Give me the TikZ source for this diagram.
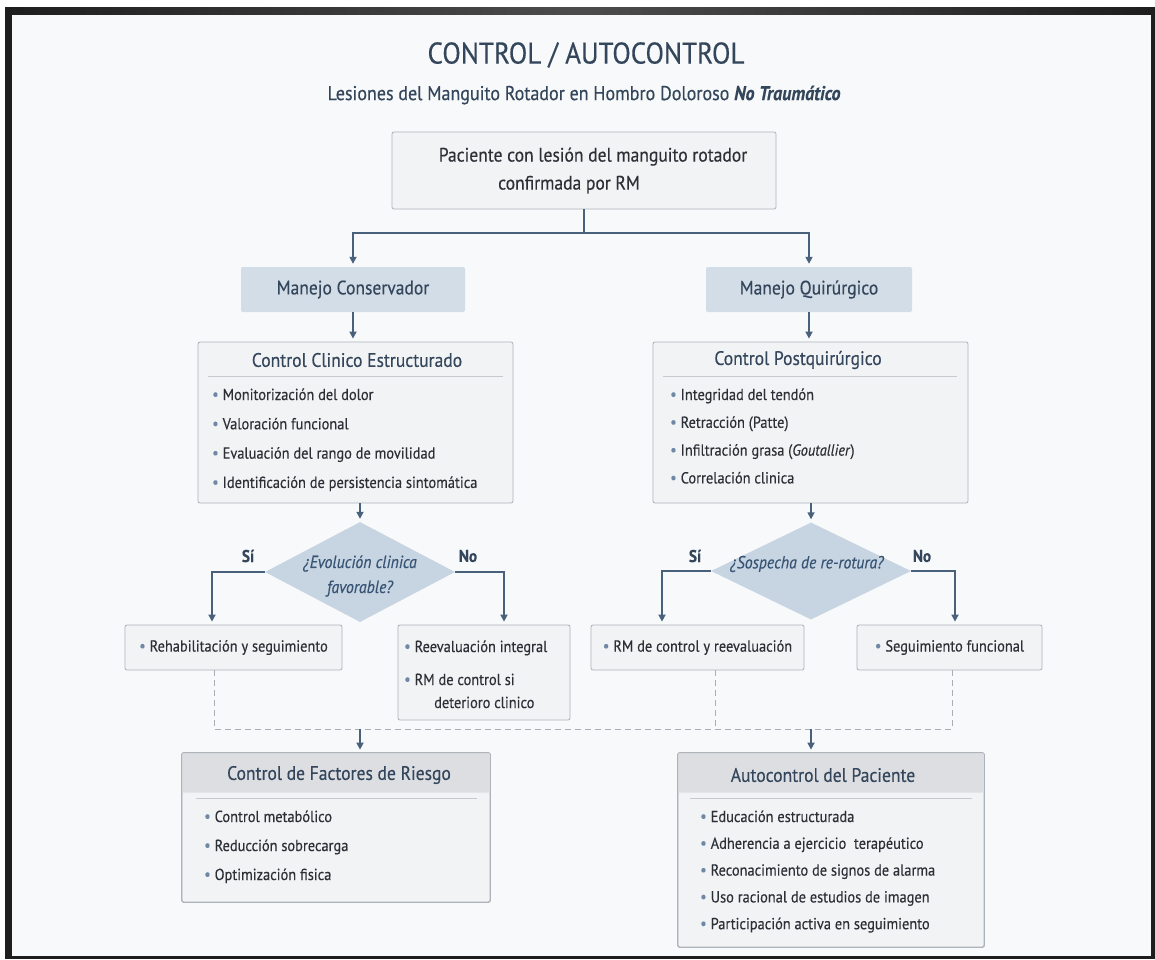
\documentclass[tikz,border=0pt]{standalone}
\usepackage{fontspec}
\usepackage{graphicx}
\setmainfont{PT Sans}[FakeStretch=0.9, FakeBold=0.35]
\usetikzlibrary{arrows.meta,shapes.geometric,calc}

\definecolor{framec}{HTML}{1E1E1E}
\definecolor{bgc}{HTML}{F8F9FA}
\definecolor{linec}{HTML}{4A617C}
\definecolor{boxfill}{HTML}{F2F3F5}
\definecolor{boxdraw}{HTML}{ADB3BA}
\definecolor{mfill}{HTML}{D3DDE7}
\definecolor{dfill}{HTML}{C7D4E1}
\definecolor{hdrfill}{HTML}{DCDEE2}
\definecolor{titlec}{HTML}{34465B}
\definecolor{textc}{HTML}{2C3036}
\definecolor{bulletc}{HTML}{6F88A5}
\definecolor{dashc}{HTML}{A9AFB6}
\definecolor{sepc}{HTML}{C6CACF}
\definecolor{qtext}{HTML}{385474}

\newcommand\bul{\textcolor{bulletc}{\raisebox{0.05ex}{\scalebox{1.0}{\textbullet}}}\hspace{4pt}}
\newcommand\listfont{\fontsize{16}{19}\selectfont}
\newcommand\headfont{\fontsize{19.5}{23}\selectfont}

\begin{document}
\begin{tikzpicture}[x=1pt,y=-1pt,
  box/.style={draw=boxdraw, fill=boxfill, line width=0.8pt, rounded corners=2pt,
    inner sep=0pt, anchor=center},
  mbox/.style={fill=mfill, rounded corners=2pt, inner sep=0pt, anchor=center,
    font=\headfont, text=titlec},
  decision/.style={diamond, fill=dfill, inner sep=0pt, aspect=1.9},
  qtxt/.style={font=\fontsize{17.5}{25}\selectfont\itshape, text=qtext, align=center,
    inner sep=0pt},
  head/.style={font=\headfont, text=titlec, inner sep=0pt, anchor=center},
  item/.style={anchor=base west, inner sep=0pt, font=\listfont, text=textc},
  answer/.style={font=\fontsize{17}{20}\selectfont\bfseries, text=titlec, inner sep=0pt},
  sep/.style={draw=sepc, line width=1pt},
  link/.style={draw=linec, line width=1.6pt},
  arr/.style={link, -{Triangle[width=7pt,length=7pt]}, shorten >=3pt},
  dashline/.style={draw=dashc, line width=0.8pt, dash pattern=on 6pt off 4pt}]

\useasboundingbox (0,0) rectangle (1155,959);
% screen frame and page
\fill[white] (0,0) rectangle (1155,959);
\fill[framec] (5,7) rectangle (1155,959);
\shade[left color=framec, right color=framec, middle color=black!70] (5,7) rectangle (1155,15);
\fill[bgc] (12,15) rectangle (1151,956);

% headings
\node[font=\fontsize{30}{34}\selectfont, text=titlec] (title) at (586,55) {CONTROL / AUTOCONTROL};
\node[font=\fontsize{20}{24}\selectfont, text=titlec] (subtitle) at (584,95)
  {Lesiones del Manguito Rotador en Hombro Doloroso \textbf{\textit{No Traumático}}};

% starting point
\node[box, minimum width=384pt, minimum height=77pt, align=center,
  font=\fontsize{19.5}{28}\selectfont, text=textc] (top) at (584,170.5)
  {\hspace*{18pt}Paciente con lesión del manguito rotador\\confirmada por RM\hspace*{30pt}};

% two treatment paths
\node[mbox, minimum width=224pt, minimum height=45pt] (mc) at (353,289.5) {Manejo Conservador};
\node[mbox, minimum width=206pt, minimum height=45pt] (mq) at (809,289.5) {Manejo Quirúrgico};

% structured control boxes
\node[box, minimum width=315pt, minimum height=161pt] (cc) at (355.5,422.5) {};
\node[head] (cc-t) at (357,360) {Control Clinico Estructurado};
\draw[sep] (208,376) -- (503,376);
\foreach \txt [count=\i] in {Monitorización del dolor, Valoración funcional,
    Evaluación del rango de movilidad, Identificación de persistencia sintomática}
  \node[item] (cc-\i) at (212,{400+29.3*(\i-1)}) {\bul\txt};

\node[box, minimum width=315pt, minimum height=161pt] (cp) at (810.5,422.5) {};
\node[head] (cp-t) at (798,360) {Control Postquirúrgico};
\draw[sep] (663,376) -- (957,376);
\foreach \txt [count=\i] in {Integridad del tendón, Retracción (Patte),
    Infiltración grasa (\textit{Goutallier}), Correlación clinica}
  \node[item] (cp-\i) at (670,{400+27.8*(\i-1)}) {\bul\txt};

% decisions
\node[decision, minimum width=190pt, minimum height=100pt] (d1) at (360,572) {};
\node[qtxt] (d1-q) at (360,576) {¿Evolución clinica\\favorable?};
\node[decision, minimum width=200pt, minimum height=97pt] (d2) at (811,571) {};
\node[qtxt] (d2-q) at (807,564) {¿Sospecha de re-rotura?};

\node[answer] (d1-si) at (248,556) {Sí};
\node[answer] (d1-no) at (468,556) {No};
\node[answer] (d2-si) at (695,556) {Sí};
\node[answer] (d2-no) at (922,556) {No};

% outcomes
\node[box, minimum width=217pt, minimum height=45pt, font=\listfont, text=textc]
  (r1) at (233.5,647.5) {\bul Rehabilitación y seguimiento};
\node[box, minimum width=172pt, minimum height=95pt] (r2) at (484,672.5) {};
\node[item] (r2-1) at (404,652) {\bul Reevaluación integral};
\node[item] (r2-2) at (404,685) {\bul RM de control si};
\node[item] (r2-3) at (434,708) {deterioro clinico};
\node[box, minimum width=213pt, minimum height=45pt, font=\listfont, text=textc]
  (rm) at (697.5,647.5) {\bul RM de control y reevaluación};
\node[box, minimum width=185pt, minimum height=45pt, font=\listfont, text=textc]
  (sf) at (949.5,647.5) {\bul Seguimiento funcional};

% long-term boxes
\node[box, minimum width=308pt, minimum height=149pt] (fr) at (336,827.5) {};
\fill[hdrfill, rounded corners=2pt] (fr.north west) rectangle ($(fr.north east)+(0,40)$);
\draw[boxdraw, line width=0.8pt, rounded corners=2pt] (fr.north west) rectangle (fr.south east);
\node[head] (fr-t) at (339,775) {Control de Factores de Riesgo};
\draw[sep] (196,798) -- (477,798);
\foreach \txt [count=\i] in {Control metabólico, Reducción sobrecarga, Optimización fisica}
  \node[item] (fr-\i) at (204,{822+29*(\i-1)}) {\bul\txt};

\node[box, minimum width=306pt, minimum height=194pt] (ap) at (831,850) {};
\fill[hdrfill, rounded corners=2pt] (ap.north west) rectangle ($(ap.north east)+(0,40)$);
\draw[boxdraw, line width=0.8pt, rounded corners=2pt] (ap.north west) rectangle (ap.south east);
\node[head] (ap-t) at (823,775) {Autocontrol del Paciente};
\draw[sep] (690,798) -- (972,798);
\foreach \txt [count=\i] in {Educación estructurada, Adherencia a ejercicio\ \ terapéutico,
    Reconacimiento de signos de alarma, Uso racional de estudios de imagen,
    Participación activa en seguimiento}
  \node[item] (ap-\i) at (700,{822+26.8*(\i-1)}) {\bul\txt};

% connectors
\coordinate (split) at (584,233);
\draw[link] (top.south) -- (split);
\draw[arr] (split) -| (mc.north);
\draw[arr] (split) -| (mq.north);
\draw[arr] (mc.south) -- (mc.south |- cc.north);
\draw[arr] (mq.south) -- (mq.south |- cp.north);
\draw[arr] (d1.north |- cc.south) -- (d1.north);
\draw[arr] (d2.north |- cp.south) -- (d2.north);

\draw[arr] (d1.west) -| ([xshift=-21.5pt]r1.north);
\draw[arr] (d1.east) -| ([xshift=20pt]r2.north);
\draw[arr] (d2.west) -| ([xshift=-35.5pt]rm.north);
\draw[arr] (d2.east) -| ([xshift=5.5pt]sf.north);

% follow-up bus
\coordinate (bus) at (584,729);
\draw[dashline] ([xshift=-19.5pt]r1.south) |- (bus) -| ([xshift=2.5pt]sf.south);
\draw[dashline] ([xshift=17.5pt]rm.south) -- ([xshift=17.5pt]rm.south |- bus);
\draw[arr] (bus -| d1.south) -- (d1.south |- fr.north);
\draw[arr] (bus -| d2.south) -- (d2.south |- ap.north);
\end{tikzpicture}
\end{document}
